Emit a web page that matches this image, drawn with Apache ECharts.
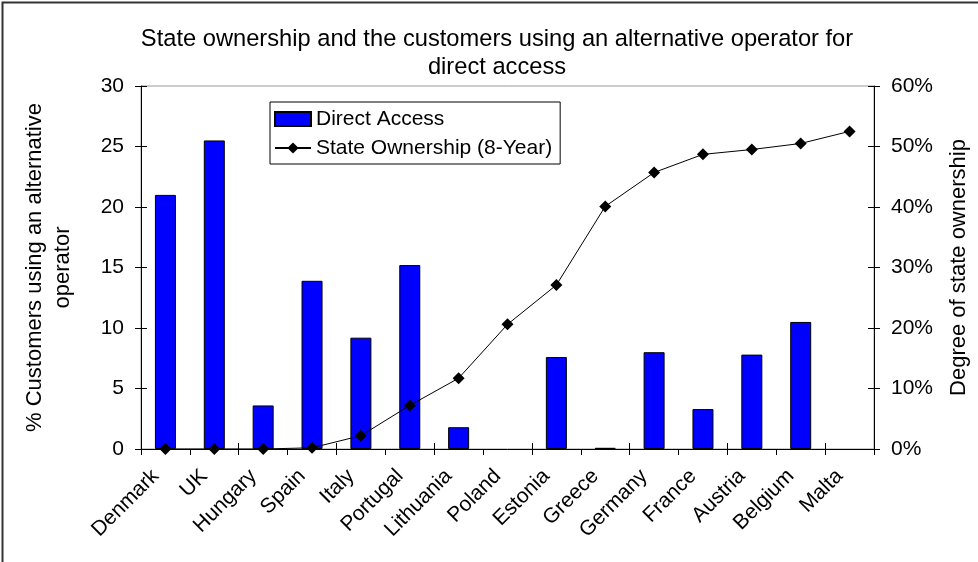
<!DOCTYPE html>
<html>
<head>
<meta charset="utf-8">
<script src="https://cdn.jsdelivr.net/npm/echarts@6/dist/echarts.min.js"></script>
<style>
html,body{margin:0;padding:0;background:#fff;}
#main{width:978px;height:562px;}
</style>
</head>
<body>
<div id="main"></div>
<script>
// categories and values
var countries=["Denmark","UK","Hungary","Spain","Italy","Portugal","Lithuania","Poland","Estonia","Greece","Germany","France","Austria","Belgium","Malta"];
var directAccess=[21.0,25.5,3.6,13.9,9.2,15.2,1.8,null,7.6,0.1,8.0,3.3,7.8,10.5,null];
var stateOwnership=[0,0,0,0.2,2.2,7.2,11.7,20.6,27.1,40.1,45.7,48.7,49.5,50.5,52.5];

var font="Liberation Sans";
var tickFont=21;

//ticks in the source cross the axis line: outer ticks on the main axes, inner ticks on copies
function crossAxisY(min,max,interval,pos){
    return {
        type:"value",min:min,max:max,interval:interval,position:pos,
        axisLine:{show:false},
        axisTick:{show:true,inside:true,length:6,lineStyle:{color:"#000"}},
        axisLabel:{show:false},
        splitLine:{show:false}
    };
}

var myChart=echarts.init(document.getElementById("main"));
var option={
    backgroundColor:"#fff",
    animation:false,
    textStyle:{fontFamily:font},
    title:{
        text:"State ownership and the customers using an alternative operator for\ndirect access",
        left:492,
        textAlign:"center",
        top:20,
        textStyle:{fontFamily:font,fontSize:23.7,fontWeight:"normal",color:"#000",lineHeight:28}
    },
    legend:{
        left:270,
        top:102,
        orient:"vertical",
        padding:[5,8,4,4],
        itemGap:5,
        borderColor:"#000",
        borderWidth:1,
        borderRadius:0,
        itemWidth:36,
        itemHeight:14,
        textStyle:{fontFamily:font,fontSize:21,color:"#000",lineHeight:24},
        data:[
            {name:"Direct Access",icon:"rect"},
            {name:"State Ownership (8-Year)"}
        ]
    },
    grid:{
        left:141,
        right:100,
        top:86,
        bottom:113,
        show:true,
        borderColor:"#999",
        borderWidth:1
    },
    xAxis:[
        {
            type:"category",
            data:countries,
            axisLine:{lineStyle:{color:"#000"}},
            axisTick:{show:true,length:6,lineStyle:{color:"#000"}},
            axisLabel:{
                rotate:45,
                interval:0,
                fontFamily:font,
                fontSize:tickFont,
                color:"#000",
                margin:14,
                padding:[0,14,0,0]
            }
        },
        {
            type:"category",
            data:countries,
            position:"bottom",
            axisLine:{show:false},
            axisTick:{show:true,inside:true,length:6,lineStyle:{color:"#000"}},
            axisLabel:{show:false}
        }
    ],
    yAxis:[
        {
            type:"value",
            min:0,
            max:30,
            interval:5,
            name:"% Customers using an alternative\noperator",
            nameLocation:"middle",
            nameGap:64,
            nameRotate:90,
            nameTextStyle:{fontFamily:font,fontSize:22,color:"#000",lineHeight:28},
            axisLine:{show:true,lineStyle:{color:"#000"}},
            axisTick:{show:true,length:6,lineStyle:{color:"#000"}},
            axisLabel:{fontFamily:font,fontSize:tickFont,color:"#000",margin:17},
            splitLine:{show:false}
        },
        {
            type:"value",
            min:0,
            max:60,
            interval:10,
            position:"right",
            name:"Degree of state ownership",
            nameLocation:"middle",
            nameGap:74,
            nameRotate:90,
            nameTextStyle:{fontFamily:font,fontSize:22,color:"#000"},
            axisLine:{show:true,lineStyle:{color:"#000"}},
            axisTick:{show:true,length:6,lineStyle:{color:"#000"}},
            axisLabel:{fontFamily:font,fontSize:tickFont,color:"#000",margin:17,formatter:"{value}%"},
            splitLine:{show:false}
        },
        crossAxisY(0,30,5,"left"),
        crossAxisY(0,60,10,"right")
    ],
    series:[
        {
            name:"Direct Access",
            type:"bar",
            yAxisIndex:0,
            data:directAccess,
            barWidth:21,
            itemStyle:{color:"#0000ff",borderColor:"#000",borderWidth:1}
        },
        {
            name:"State Ownership (8-Year)",
            type:"line",
            yAxisIndex:1,
            data:stateOwnership,
            symbol:"diamond",
            symbolSize:12,
            lineStyle:{color:"#000",width:1},
            itemStyle:{color:"#000"}
        }
    ],
    graphic:[
        {
            type:"rect",
            left:0,
            top:0,
            shape:{x:3,y:1,width:990,height:580},
            style:{fill:null,stroke:"#333",lineWidth:2},
            silent:true
        }
    ]
};
myChart.setOption(option);
</script>
</body>
</html>
